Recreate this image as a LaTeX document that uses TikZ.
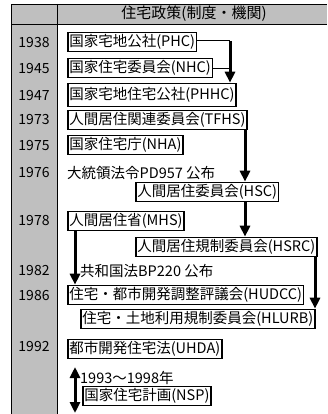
\documentclass[tikz,border=0pt]{standalone}
\usepackage{fontspec}
\setmainfont{Noto Sans CJK JP}
\usetikzlibrary{arrows.meta}
\begin{document}
\begin{tikzpicture}[x=1pt,y=-1pt,
  box/.style={draw,line width=1.6pt,anchor=west,inner xsep=1.5pt,inner ysep=0pt,minimum height=19pt,font=\fontsize{14.5}{17}\selectfont},
  txt/.style={anchor=west,inner sep=1pt,font=\fontsize{14.5}{17}\selectfont},
  yr/.style={font=\fontsize{14}{16}\selectfont},
  arr/.style={line width=3pt,-{Triangle[width=10pt,length=11pt]}}]
  \useasboundingbox (0,0) rectangle (327,414);
  % table
  \fill[black!25] (11,4) rectangle (327,24);
  \fill[black!25] (11,24) rectangle (57,414);
  \draw[line width=.8pt] (11,414) -- (11,4) -- (327,4);
  \draw[line width=.8pt] (11,24) -- (327,24);
  \draw[line width=.8pt] (57,4) -- (57,414);
  \node (head) at (194,14) [font=\fontsize{15}{17}\selectfont] {住宅政策(制度・機関)};
  % years
  \node[yr] (y1938) at (34,43) {1938};
  \node[yr] (y1945) at (34,69) {1945};
  \node[yr] (y1947) at (34,96) {1947};
  \node[yr] (y1973) at (34,120) {1973};
  \node[yr] (y1975) at (34,146) {1975};
  \node[yr] (y1976) at (34,173) {1976};
  \node[yr] (y1978) at (34,221) {1978};
  \node[yr] (y1982) at (34,271) {1982};
  \node[yr] (y1986) at (34,296) {1986};
  \node[yr] (y1992) at (34,347) {1992};
  % policies
  \node[box] (phc) at (67,42) {国家宅地公社(PHC)};
  \node[box] (nhc) at (67,68) {国家住宅委員会(NHC)};
  \node[box,minimum height=23pt] (phhc) at (67,95) {国家宅地住宅公社(PHHC)};
  \node[box] (tfhs) at (67,120) {人間居住関連委員会(TFHS)};
  \node[box] (nha) at (67,145) {国家住宅庁(NHA)};
  \node[txt] (pd) at (66,173) {大統領法令PD957\ 公布};
  \node[box] (hsc) at (135,192) {人間居住委員会(HSC)};
  \node[box] (mhs) at (67,221) {人間居住省(MHS)};
  \node[box] (hsrc) at (135,247) {人間居住規制委員会(HSRC)};
  \node[txt] (bp) at (79,271) {共和国法BP220\ 公布};
  \node[box] (hudcc) at (67,295) {住宅・都市開発調整評議会(HUDCC)};
  \node[box] (hlurb) at (80,319) {住宅・土地利用規制委員会(HLURB)};
  \node[box] (uhda) at (67,349) {都市開発住宅法(UHDA)};
  \node[txt] (yrs) at (79,378) {1993〜1998年};
  \node[box] (nsp) at (82,396) {国家住宅計画(NSP)};
  % connectors
  \coordinate (c1) at (230,40);
  \coordinate (c2) at (245,0);
  \coordinate (c3) at (75,0);
  \coordinate (c4) at (315,0);
  \coordinate (d1) at (75,367);
  \coordinate (d2) at (75,413);
  \draw[line width=.8pt] (phc.east |- c1) -- (c1);
  \draw[line width=.8pt] (nhc.east) -- (nhc.east -| c1);
  \draw[arr] ([yshift=-1pt]c1) -- (c1 |- phhc.north);
  \draw[arr] (tfhs.south -| c2) -- (hsc.north -| c2);
  \draw[arr] (hsc.south -| c2) -- (hsrc.north -| c2);
  \draw[arr] (mhs.south -| c3) -- (hudcc.north -| c3);
  \draw[arr] (hsrc.south -| c4) -- (hlurb.north -| c4);
  \draw[line width=3pt,{Triangle[width=10pt,length=11pt]}-{Triangle[width=10pt,length=11pt]}] (d1) -- (d2);
\end{tikzpicture}
\end{document}
